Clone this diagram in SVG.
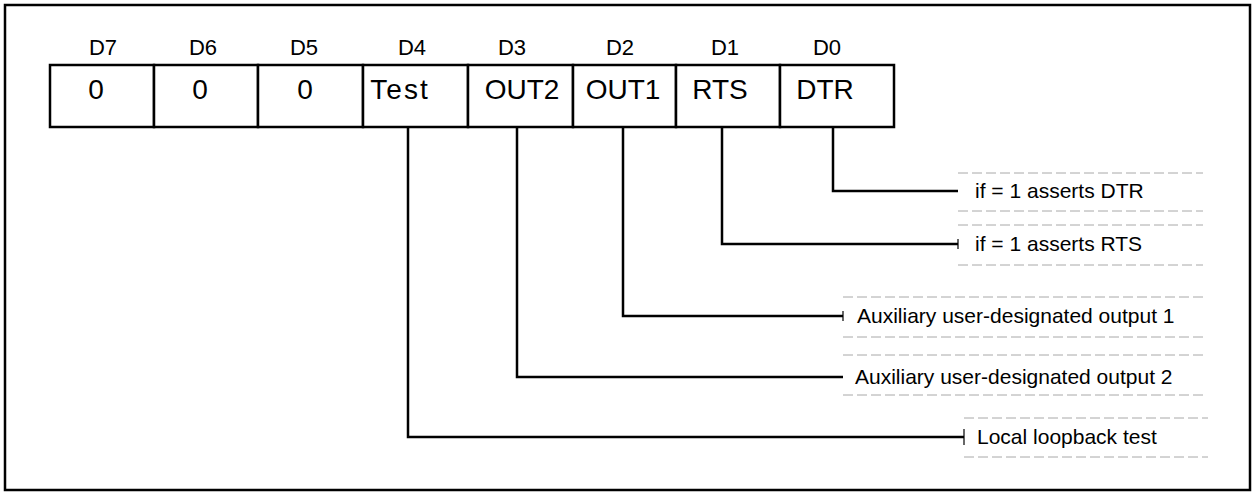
<svg xmlns="http://www.w3.org/2000/svg" width="1253" height="493" viewBox="0 0 1253 493">
<style>
.frame{fill:none;stroke:#000;stroke-width:2.5}
.cell{fill:#fff;stroke:#000;stroke-width:2.5}
.bit{font-family:"Liberation Sans",Arial,sans-serif;font-size:22px;fill:#000;text-anchor:middle}
.val{font-family:"Liberation Sans",Arial,sans-serif;font-size:28px;fill:#000;text-anchor:middle}
.lbl{font-family:"Liberation Sans",Arial,sans-serif;font-size:21px;fill:#000}
.conn{fill:none;stroke:#000;stroke-width:2.5}
.lbox{fill:none;stroke:#a8a8a8;stroke-width:1;stroke-dasharray:10 4}
.tick{fill:none;stroke:#000;stroke-width:1.2}
</style>
<rect width="1253" height="493" fill="#fff"/>
<rect class="frame" x="5" y="5" width="1245" height="485"/>
<g id="register">
  <g id="bit-D7"><text class="bit" x="103" y="55">D7</text><rect class="cell" x="50" y="65" width="104" height="62"/><text class="val" x="96" y="99">0</text></g>
  <g id="bit-D6"><text class="bit" x="203" y="55">D6</text><rect class="cell" x="154" y="65" width="104" height="62"/><text class="val" x="200" y="99">0</text></g>
  <g id="bit-D5"><text class="bit" x="304" y="55">D5</text><rect class="cell" x="258" y="65" width="105" height="62"/><text class="val" x="305" y="99">0</text></g>
  <g id="bit-D4"><text class="bit" x="412" y="55">D4</text><rect class="cell" x="363" y="65" width="105" height="62"/><text class="val" x="400" y="99" letter-spacing="2">Test</text></g>
  <g id="bit-D3"><text class="bit" x="512" y="55">D3</text><rect class="cell" x="468" y="65" width="105" height="62"/><text class="val" x="522" y="99">OUT2</text></g>
  <g id="bit-D2"><text class="bit" x="620" y="55">D2</text><rect class="cell" x="573" y="65" width="103" height="62"/><text class="val" x="623" y="99">OUT1</text></g>
  <g id="bit-D1"><text class="bit" x="725" y="55">D1</text><rect class="cell" x="676" y="65" width="104" height="62"/><text class="val" x="720" y="99">RTS</text></g>
  <g id="bit-D0"><text class="bit" x="827" y="55">D0</text><rect class="cell" x="780" y="65" width="114" height="62"/><text class="val" x="825" y="99">DTR</text></g>
</g>
<g id="connectors">
  <path class="conn" d="M833 127 V191 H958"/>
  <path class="conn" d="M722 127 V244 H958"/>
  <path class="conn" d="M623 127 V316 H843"/>
  <path class="conn" d="M517 127 V377 H843"/>
  <path class="conn" d="M408 127 V437 H964"/>
</g>
<g id="label-dtr"><path class="lbox" d="M958 173 H1203 M958 211 H1203"/><text class="lbl" x="975" y="198">if = 1 asserts DTR</text></g>
<g id="label-rts"><path class="lbox" d="M958 225 H1203 M958 265 H1203"/><path class="tick" d="M958 239 V249"/><text class="lbl" x="975" y="251">if = 1 asserts RTS</text></g>
<g id="label-out1"><path class="lbox" d="M843 297 H1203 M843 337 H1203"/><path class="tick" d="M843 311 V321"/><text class="lbl" x="857" y="323">Auxiliary user-designated output 1</text></g>
<g id="label-out2"><path class="lbox" d="M843 355 H1203 M843 395 H1203"/><text class="lbl" x="855" y="384">Auxiliary user-designated output 2</text></g>
<g id="label-loop"><path class="lbox" d="M964 418 H1208 M964 457 H1208"/><path class="tick" d="M964 429 V445"/><text class="lbl" x="977" y="444">Local loopback test</text></g>
</svg>
